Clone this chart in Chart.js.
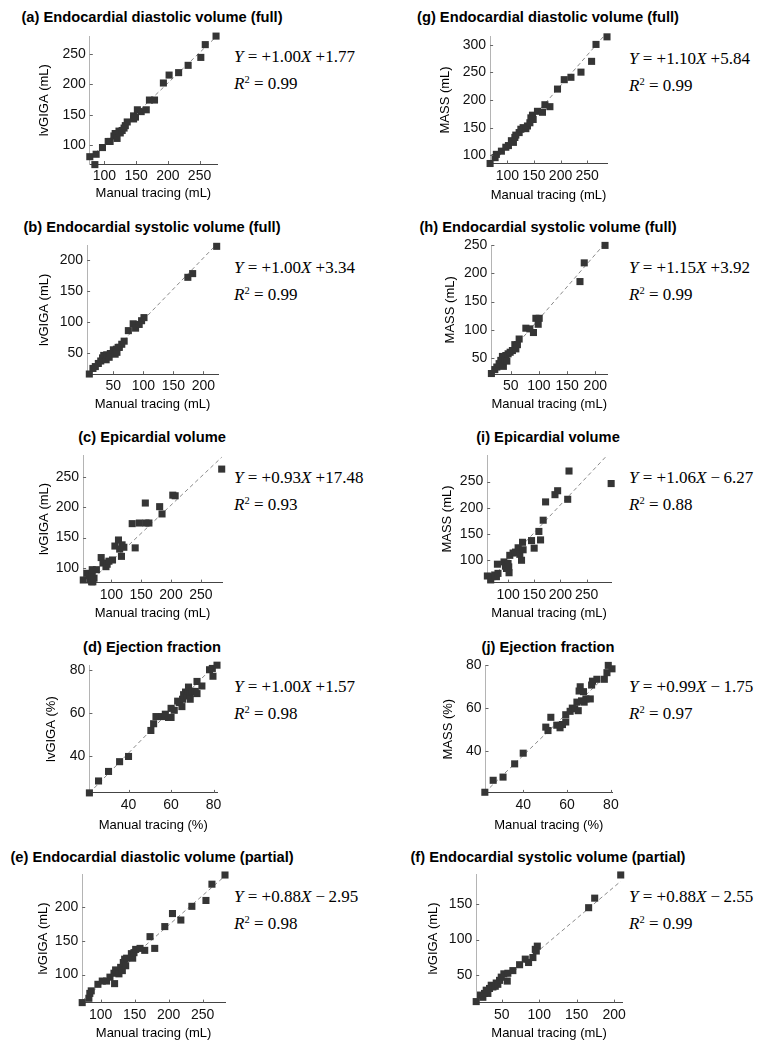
<!DOCTYPE html>
<html><head><meta charset="utf-8">
<script src="https://cdn.jsdelivr.net/npm/chart.js@4.4.1/dist/chart.umd.min.js"></script>
<style>
body{margin:0;background:#fff;width:768px;height:1050px;position:relative;overflow:hidden;font-family:"Liberation Sans",Arial,sans-serif;}
.title{position:absolute;font-weight:bold;font-size:14.7px;white-space:nowrap;transform:translate(-50%,-50%);color:#000;line-height:1}
.eq{position:absolute;font-family:"Liberation Serif","Times New Roman",serif;font-size:17px;white-space:nowrap;transform:translateY(-50%);color:#000;line-height:1}
.eq sup{font-size:10.5px;vertical-align:6px;line-height:0}
canvas{position:absolute}
</style></head><body>
<script>
// ---------- DATA ----------
const panelIds = ['a','b','c','d','e','g','h','i','j','f'];
const titles = {
  a:'(a) Endocardial diastolic volume (full)', b:'(b) Endocardial systolic volume (full)',
  c:'(c) Epicardial volume', d:'(d) Ejection fraction',
  e:'(e) Endocardial diastolic volume (partial)', g:'(g) Endocardial diastolic volume (full)',
  h:'(h) Endocardial systolic volume (full)', i:'(i) Epicardial volume',
  j:'(j) Ejection fraction', f:'(f) Endocardial systolic volume (partial)'
};
const yLabels = {a:'lvGIGA (mL)',b:'lvGIGA (mL)',c:'lvGIGA (mL)',d:'lvGIGA (%)',e:'lvGIGA (mL)',
  g:'MASS (mL)',h:'MASS (mL)',i:'MASS (mL)',j:'MASS (%)',f:'lvGIGA (mL)'};
const xLabels = {a:'Manual tracing (mL)',b:'Manual tracing (mL)',c:'Manual tracing (mL)',d:'Manual tracing (%)',e:'Manual tracing (mL)',
  g:'Manual tracing (mL)',h:'Manual tracing (mL)',i:'Manual tracing (mL)',j:'Manual tracing (%)',f:'Manual tracing (mL)'};

const slopes     = {a:1.00,b:1.00,c:0.93,d:1.00,e:0.88,g:1.10,h:1.15,i:1.06,j:0.99,f:0.88};
const intercepts = {a:1.77,b:3.34,c:17.48,d:1.57,e:-2.95,g:5.84,h:3.92,i:-6.27,j:-1.75,f:-2.55};
const r2         = {a:0.99,b:0.99,c:0.93,d:0.98,e:0.98,g:0.99,h:0.99,i:0.88,j:0.97,f:0.99};

const a_manual = [77,85,87,97,106,109,115,117,120,123,125,128,131,133,136,146,146,149,152,158,166,171,179,193,202,217,232,252,259,276];
const a_lvgiga = [81,68,85,96,106,106,115,119,111,123,120,124,128,132,138,143,148,146,158,155,158,174,174,202,215,219,231,244,265,279];

const b_manual = [10,16,20,25,29,32,34,38,39,43,45,50,53,55,60,56,64,58,68,75,83,87,93,97,101,174,182,222];
const b_lvgiga = [16,25,28,33,37,42,46,39,47,43,49,55,48,56,59,51,64,59,69,86,97,90,96,102,107,172,178,222];

const c_manual = [53,59,63,65,67,68,69,71,68,75,83,86,91,93,96,102,106,112,114,118,117,121,135,140,147,157,158,163,181,185,203,207,285];
const c_lvgiga = [80,91,87,80,77,86,77,83,97,97,117,108,102,106,111,113,136,146,131,138,119,134,173,133,174,207,174,174,201,189,220,219,263];

const d_manual = [21.6,25.9,30.6,35.8,40,50.5,51.8,52.9,55.7,57.3,58.8,60,60,61.5,63.1,64,65.1,65.4,65.9,66.8,67.5,68.2,69,68.2,69.8,71.4,69,72.2,72.2,74.5,78.1,79.7,79.4,81.6];
const d_lvgiga = [23.2,28.7,33.1,37.6,40,52,55.1,58.4,58.4,59.5,58,58,62.2,61.3,65.5,64.9,63,66.4,68.5,69.7,67.9,70,69,72,70,70,66.4,69,74.6,72.5,80,77,80.6,82.1];

const e_manual = [73,82.8,84.2,86.3,96.1,102.5,108.8,113.8,119.7,120.6,122.1,127,129.5,132,133.4,135.4,136.9,138.3,145.3,147.2,149.1,151.6,158,164.9,172.7,179.6,194.4,205.7,218,234.2,254.9,263.7,282.9];
const e_lvgiga = [58.4,64.8,72,75.8,85.5,90.3,90.3,96.1,101.9,86.5,106.8,101,110.6,105.8,117.8,122.7,113,124.2,130.9,124.2,132.4,137.2,138.7,135.8,156.1,138.7,171,190.3,180.7,201,209.7,233.8,247.4];

const g_manual = [67.4,76.8,79.2,88.7,97,101.9,107.5,111.3,114,115.8,122.1,125.3,129.6,134.7,137.7,142.3,144.2,147.2,148.5,156.6,166,170.6,180,194.3,207,219.6,238.5,258.5,266.8,287.5];
const g_mass   = [85.3,95.9,101.8,107.6,114.7,117.7,126.5,123.5,132.4,136.6,141.2,147.2,150.1,148.3,153.1,158.9,167.8,172.6,164.9,179.6,177.9,191.5,188,219.8,236.8,241.1,250.4,269.9,300.5,314.2];

const h_manual = [15.5,21.5,25.1,29.2,32.2,35.1,36.8,39.3,41.1,42.9,45.2,48.8,52.8,57.1,58.9,61.7,64.8,76.7,83.8,90.2,94.5,98.6,100.4,172.8,180.4,217.3];
const h_mass   = [21.9,28.9,33.5,39.5,45.3,52.3,34.7,45.3,54,44,57,59.8,62.8,73.3,65.8,73.3,83.3,102.6,101.4,94.9,120.2,109.6,120.2,185.6,218.9,250];

const i_manual = [60.5,66.9,69.3,74.5,77.8,80.8,79.7,92.3,95,97,100,101.9,101.3,103.3,109.6,114.2,119.2,122.4,125.7,128.7,127.6,144.8,149.8,158.8,162,167,171.6,189.5,194.6,213.8,216.3,296.7];
const i_mass   = [70,62.5,68.7,71.9,68.7,75,92.5,96.8,88.7,84.4,93.8,76.2,87.4,109.4,113.8,115.6,123.8,111.3,100,120,134.3,137.5,123.1,155,138.8,176.4,211.3,225.1,232.6,216.3,270.2,246.3];

const j_manual = [22.5,26.3,30.8,36.1,40,50.3,51.3,52.6,55.3,56.8,57.9,59.4,59.4,61.4,62.4,63.5,64.5,65.1,65.5,66,66.6,67.5,67.8,68.6,70.6,71.2,71.6,73.6,77,78.2,78.8,80.5];
const j_mass   = [20.6,26.2,27.7,33.9,38.9,51.1,49.5,55.7,52,50.8,52.3,53.5,56.9,58.5,60,59.7,62.8,58.8,68,70,63.4,67.7,62.8,64.3,64.3,70.8,72.6,73.5,73.5,76.6,80,78.4];

const f_manual = [15.7,21.5,24.6,26.8,29.1,31.3,33.5,35.8,38,39.3,41.2,42.5,44.6,46.9,49.2,52.7,57.2,58,64.7,73.7,81.3,85.7,91.5,94.7,97.4,96,166,174.1,208.9];
const f_lvgiga = [13.6,22.7,19.6,25,29.5,25,31.9,36.4,34,35.9,35,39.5,37.7,43.2,47.7,52.3,42.2,53.1,56.8,65,72.8,68.1,75,86.4,90.9,84.1,144.5,157.8,190.1];

const xTicks = {a:[100,150,200,250],b:[50,100,150,200],c:[100,150,200,250],d:[40,60,80],e:[100,150,200,250],
  g:[100,150,200,250],h:[50,100,150,200],i:[100,150,200,250],j:[40,60,80],f:[50,100,150,200]};
const yTicks = {a:[100,150,200,250],b:[50,100,150,200],c:[100,150,200,250],d:[40,60,80],e:[100,150,200],
  g:[100,150,200,250,300],h:[50,100,150,200,250],i:[100,150,200,250],j:[40,60,80],f:[50,100,150]};
const xRange = {a:[77,277.5],b:[6.3,224.2],c:[52.7,285.5],d:[21.6,81.6],e:[73,282.9],
  g:[67.4,287.5],h:[15.5,220.8],i:[60.2,296.4],j:[22.8,80.5],f:[15.7,210.6]};
const yRange = {a:[69,278.5],b:[15.7,223.5],c:[75.7,285.6],d:[23.2,82],e:[58.4,248.3],
  g:[85.3,315],h:[20.7,250],i:[57.4,300],j:[20.3,80],f:[12.2,190.9]};

const seriesX = {a:a_manual,b:b_manual,c:c_manual,d:d_manual,e:e_manual,g:g_manual,h:h_manual,i:i_manual,j:j_manual,f:f_manual};
const seriesY = {a:a_lvgiga,b:b_lvgiga,c:c_lvgiga,d:d_lvgiga,e:e_lvgiga,g:g_mass,h:h_mass,i:i_mass,j:j_mass,f:f_lvgiga};

// ---------- LAYOUT (page pixels) ----------
const layout = {
  a:{rect:[90,34,216.7,164.3], yt:45, xt:193.5, title:[152,16.7], eq:[234,56]},
  b:{rect:[87.3,242.5,218,374], yt:45, xt:404, title:[152,226.7], eq:[234,266.7]},
  c:{rect:[83.3,453,222,582.7], yt:45, xt:613.3, title:[152,436.7], eq:[234,476.7]},
  d:{rect:[89.3,663,216.7,792.7], yt:51.7, xt:825, title:[152,646.7], eq:[234,686]},
  e:{rect:[81.7,871.7,224,1002.7], yt:43.3, xt:1033.3, title:[152,856.7], eq:[234,896]},
  g:{rect:[490,33.5,606.7,163.3], yt:445.7, xt:195, title:[548,16.7], eq:[629,58.3]},
  h:{rect:[491.3,243.3,606.7,374], yt:450.7, xt:404, title:[548,226.7], eq:[629,266.7]},
  i:{rect:[486.7,453.3,610.7,582.7], yt:447.3, xt:613.3, title:[548,436.7], eq:[629,476.7]},
  j:{rect:[485.7,663.3,611.7,792.7], yt:449, xt:825, title:[548,646.7], eq:[629,686]},
  f:{rect:[475.7,871.7,621.3,1002.7], yt:433.3, xt:1033.3, title:[548,856.7], eq:[629,896]}
};

const FONT = '"Liberation Sans", Arial, sans-serif';
const TITLE_OFF = 13*1.2/2 + 4;

const inTicks = {
  id:'inTicks',
  afterDraw(chart){
    const ctx = chart.ctx, ca = chart.chartArea;
    ctx.save();
    ctx.strokeStyle = '#666'; ctx.lineWidth = 1;
    const xs = chart.scales.x, ys = chart.scales.y;
    xs.ticks.forEach(t=>{const p=Math.round(xs.getPixelForValue(t.value))+0.5;ctx.beginPath();ctx.moveTo(p,ca.bottom);ctx.lineTo(p,ca.bottom-3);ctx.stroke();});
    ys.ticks.forEach(t=>{const p=Math.round(ys.getPixelForValue(t.value))+0.5;ctx.beginPath();ctx.moveTo(ca.left,p);ctx.lineTo(ca.left+3,p);ctx.stroke();});
    ctx.restore();
  }
};

function fmt(v){return v.toFixed(2);}

panelIds.forEach(id=>{
  const L = layout[id];
  const [l,t,r,b] = L.rect;
  const padT = 10, padR = 24;
  const cLeft = L.yt - TITLE_OFF;
  const cTop = t - padT;
  const yW = l - cLeft;
  const xH = L.xt + TITLE_OFF - b;
  const w = Math.round(r + padR - cLeft);
  const h = Math.round(L.xt + TITLE_OFF - cTop);

  const ttl = document.createElement('div');
  ttl.className='title'; ttl.textContent = titles[id];
  ttl.style.left = L.title[0]+'px'; ttl.style.top = L.title[1]+'px';
  document.body.appendChild(ttl);

  const s = slopes[id], c = intercepts[id];
  const e1 = document.createElement('div'); e1.className='eq';
  e1.innerHTML = '<i>Y</i> = +' + fmt(s) + '<i>X</i> ' + (c>=0 ? '+' : '&minus;&thinsp;') + fmt(Math.abs(c));
  e1.style.left = L.eq[0]+'px'; e1.style.top = L.eq[1]+'px';
  document.body.appendChild(e1);
  const e2 = document.createElement('div'); e2.className='eq';
  e2.innerHTML = '<i>R</i><sup>2</sup> = ' + fmt(r2[id]);
  e2.style.left = L.eq[0]+'px'; e2.style.top = (L.eq[1]+27)+'px';
  document.body.appendChild(e2);

  const cv = document.createElement('canvas');
  cv.width = w; cv.height = h;
  cv.style.left = cLeft+'px'; cv.style.top = cTop+'px';
  cv.style.width = w+'px'; cv.style.height = h+'px';
  document.body.appendChild(cv);

  const xs = seriesX[id], ysr = seriesY[id];
  const pts = xs.map((x,k)=>({x:x, y:ysr[k]}));
  const xmin = Math.min(...xs), xmax = Math.max(...xs);
  const fitPts = [{x:xmin,y:s*xmin+c},{x:xmax,y:s*xmax+c}];

  new Chart(cv, {
    type:'scatter',
    data:{datasets:[
      {data:pts, pointStyle:'rect', pointRadius:5, pointHoverRadius:5, backgroundColor:'#353535', borderColor:'#353535', borderWidth:0, clip:false},
      {data:fitPts, showLine:true, pointRadius:0, borderColor:'#8a8a8a', borderWidth:1, borderDash:[4,3]}
    ]},
    options:{
      responsive:false, animation:false, devicePixelRatio:1, events:[],
      layout:{padding:{left:0,top:padT,right:padR,bottom:0}, autoPadding:false},
      plugins:{legend:{display:false}, tooltip:{enabled:false}, title:{display:false}},
      scales:{
        x:{type:'linear', min:xRange[id][0], max:xRange[id][1],
          afterBuildTicks:sc=>{sc.ticks = xTicks[id].map(v=>({value:v}));},
          afterFit:sc=>{sc.height = xH;},
          grid:{display:true, drawOnChartArea:false, drawTicks:false},
          border:{display:true, color:'#444', width:1, dash:[1,2]},
          ticks:{font:{family:FONT,size:14}, color:'#111', padding:4, maxRotation:0, autoSkip:false},
          title:{display:true, text:xLabels[id], font:{family:FONT,size:13}, color:'#000', padding:{top:4,bottom:4}}
        },
        y:{type:'linear', min:yRange[id][0], max:yRange[id][1],
          afterBuildTicks:sc=>{sc.ticks = yTicks[id].map(v=>({value:v}));},
          afterFit:sc=>{sc.width = yW;},
          grid:{display:true, drawOnChartArea:false, drawTicks:false},
          border:{display:true, color:'#b4b4b4', width:1},
          ticks:{font:{family:FONT,size:14}, color:'#111', padding:4, autoSkip:false},
          title:{display:true, text:yLabels[id], font:{family:FONT,size:13}, color:'#000', padding:{top:4,bottom:4}}
        }
      }
    },
    plugins:[inTicks]
  });
});
</script>
</body></html>
